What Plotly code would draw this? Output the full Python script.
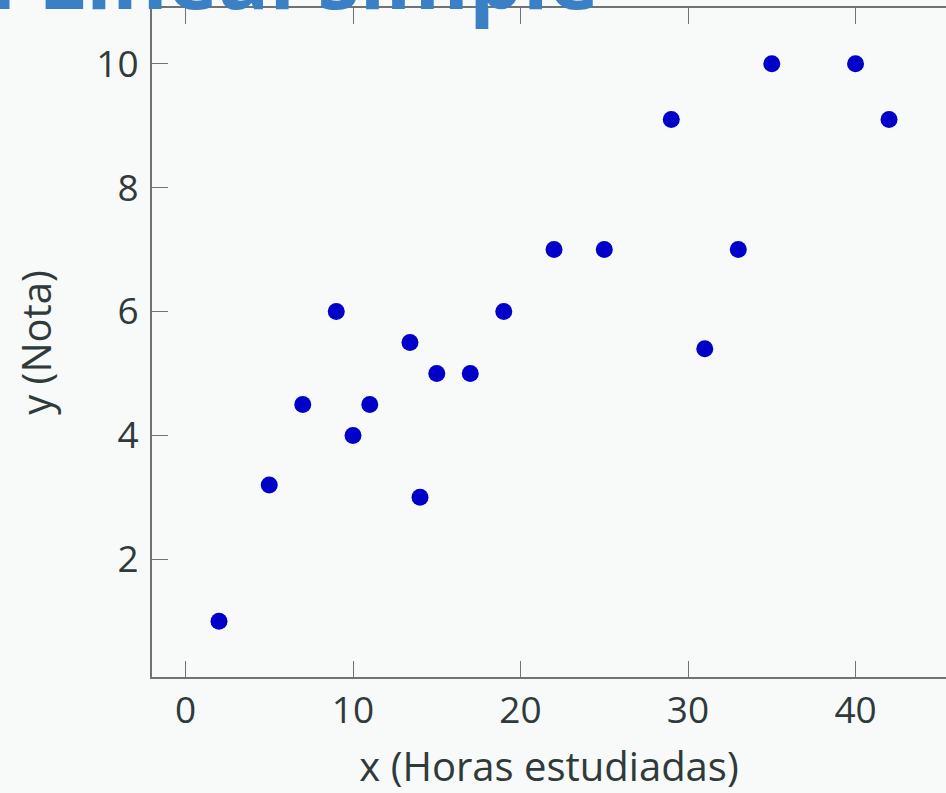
import plotly.graph_objects as go

horas = [2, 5, 7, 9, 10, 11, 13.4, 14, 15, 17, 19, 22, 25, 29, 31, 33, 35, 40, 42]
nota = [1.0, 3.2, 4.5, 6.0, 4.0, 4.5, 5.5, 3.0, 5.0, 5.0, 6.0, 7.0, 7.0, 9.1, 5.4, 7.0, 10.0, 10.0, 9.1]
x_ticks = [0, 10, 20, 30, 40]
y_ticks = [2, 4, 6, 8, 10]
titulo = "Regresión Lineal simple"
x_label = "x (Horas estudiadas)"
y_label = "y (Nota)"

bg = "#f8f9f9"
axis_col = "#6e7373"
txt_col = "#2f3a3a"
font_fam = "'Open Sans', Lato, sans-serif"

fig = go.Figure()
fig.add_trace(go.Scatter(
    x=horas, y=nota, mode="markers",
    marker=dict(color="#0000c8", size=17, line=dict(width=0)),
    showlegend=False,
))

tick_common = dict(
    showgrid=False, zeroline=False, ticks="inside", tickwidth=1.2, tickcolor=axis_col,
    tickfont=dict(size=37, color=txt_col, family=font_fam),
)

fig.update_layout(
    xaxis=dict(range=[-2, 45.4], tickvals=x_ticks, showline=True, linecolor=axis_col,
               linewidth=2, mirror="ticks", ticklen=16,
               title=dict(text=x_label, font=dict(size=40, color=txt_col, family=font_fam), standoff=30),
               **tick_common),
    yaxis=dict(range=[0.1, 10.9], tickvals=y_ticks, showline=True, linecolor=axis_col,
               linewidth=2, mirror=False, ticklen=16, ticklabelstandoff=4,
               title=dict(text=y_label, font=dict(size=40, color=txt_col, family=font_fam), standoff=32),
               **tick_common),
    yaxis2=dict(range=[0.1, 10.9], tickvals=y_ticks, overlaying="y", side="right",
                showline=False, showticklabels=False, ticklen=6, anchor="x",
                showgrid=False, zeroline=False, ticks="inside", tickwidth=1.2, tickcolor=axis_col),
)

fig.add_annotation(
    text="<b>" + titulo + "</b>", xref="paper", yref="paper", x=0.565, y=1.0,
    xanchor="right", yanchor="bottom", yshift=-28, showarrow=False,
    font=dict(size=85, color="#3b7fc4", family="'Open Sans', sans-serif"),
)

fig.update_layout(
    width=946, height=793,
    margin=dict(l=152, r=0, t=8, b=116),
    paper_bgcolor=bg, plot_bgcolor=bg,
)

fig.write_html(
    "out.html",
    config={"displayModeBar": False},
    post_script="document.body.style.margin='0';document.body.style.background='%s';" % bg,
)
